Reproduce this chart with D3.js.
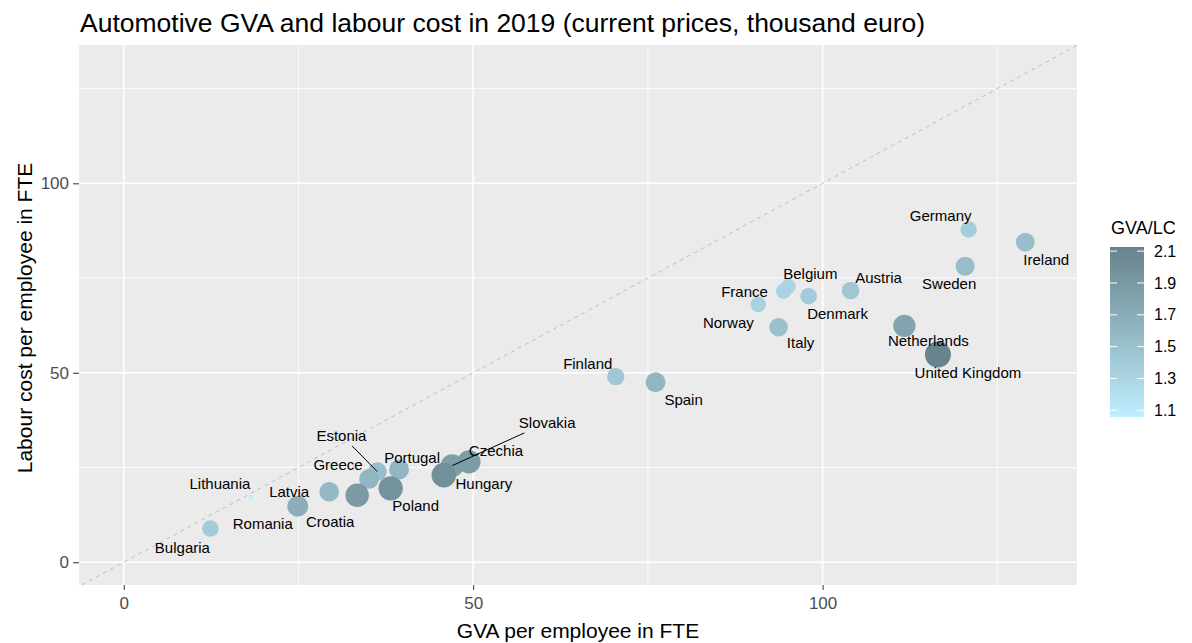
<!DOCTYPE html>
<html>
<head>
<meta charset="utf-8">
<script src="https://cdn.jsdelivr.net/npm/d3@7"></script>
<style>
  body { margin: 0; background: #fff; }
  text { font-family: "Liberation Sans", Arial, sans-serif; }
</style>
</head>
<body>
<div id="chart"></div>
<script>
// values (thousand euro per FTE)
const countries = ["Germany", "Ireland", "Sweden", "Austria", "Denmark", "Belgium", "France", "Norway",
  "Italy", "Netherlands", "United Kingdom", "Finland", "Spain", "Slovakia", "Czechia", "Hungary",
  "Portugal", "Poland", "Estonia", "Greece", "Croatia", "Latvia", "Lithuania", "Romania", "Bulgaria"];
const gva = [120.9, 129.0, 120.4, 104.0, 98.0, 95.1, 94.4, 90.8, 93.7, 111.7, 116.5, 70.4, 76.1,
  47.0, 49.4, 45.8, 39.4, 38.2, 36.3, 35.1, 33.4, 29.4, 18.2, 24.9, 12.4];
const labourCost = [87.8, 84.5, 78.1, 71.7, 70.2, 72.8, 71.5, 68.0, 62.0, 62.4, 54.8, 49.0, 47.5,
  25.5, 26.5, 23.0, 24.5, 19.5, 23.9, 22.0, 17.7, 18.6, 17.2, 14.8, 8.9];
const axisTicks = [0, 50, 100];
const legendTicks = [1.1, 1.3, 1.5, 1.7, 1.9, 2.1];

// where the repelled labels sit, relative to their point (px)
const labelShift = {
  "Germany": [-28, -14], "Ireland": [21, 18], "Sweden": [-16, 17], "Austria": [28, -13],
  "Belgium": [22, -13], "Denmark": [29, 18], "France": [-39, 0], "Norway": [-30, 18],
  "Italy": [22, 15], "Netherlands": [24, 15], "United Kingdom": [30, 18], "Finland": [-28, -13],
  "Spain": [28, 17], "Slovakia": [95, -43], "Czechia": [27, -11], "Hungary": [40, 9],
  "Portugal": [13, -12], "Poland": [25, 17], "Estonia": [-36, -36], "Greece": [-31, -14],
  "Croatia": [-27, 27], "Latvia": [-40, 0], "Lithuania": [-31, -13], "Romania": [-35, 18],
  "Bulgaria": [-28, 19]
};
const withSegment = ["Slovakia", "Estonia"];

const data = countries.map((c, i) => ({ name: c, x: gva[i], y: labourCost[i], r: gva[i] / labourCost[i] }));

const W = 1192, H = 643;
const panel = { left: 79, right: 1077, top: 45, bottom: 585 };

const svg = d3.select("#chart").append("svg")
  .attr("width", W).attr("height", H);

const x = d3.scaleLinear().domain([-6.4, 136.4]).range([panel.left, panel.right]);
const y = d3.scaleLinear().domain([-6.0, 136.5]).range([panel.bottom, panel.top]);

const ext = d3.extent(data, d => d.r);
const color = d3.scaleLinear().domain(ext).range(["#BFEFFF", "#68838B"]).interpolate(d3.interpolateLab);
// area scale like ggplot: radius grows with sqrt of the rescaled value
const unit = d3.scaleLinear().domain(ext).range([0, 1]);
const size = v => 2.3 + 10.7 * Math.sqrt(unit(v));

// panel + grid
svg.append("rect")
  .attr("x", panel.left).attr("y", panel.top)
  .attr("width", panel.right - panel.left).attr("height", panel.bottom - panel.top)
  .attr("fill", "#EBEBEB");

const minor = [25, 75, 125];
const grid = svg.append("g");
grid.selectAll(".vmin").data(minor).join("line")
  .attr("x1", d => x(d)).attr("x2", d => x(d)).attr("y1", panel.top).attr("y2", panel.bottom)
  .attr("stroke", "#fff").attr("stroke-width", 0.8);
grid.selectAll(".hmin").data(minor).join("line")
  .attr("y1", d => y(d)).attr("y2", d => y(d)).attr("x1", panel.left).attr("x2", panel.right)
  .attr("stroke", "#fff").attr("stroke-width", 0.8);
grid.selectAll(".vmaj").data(axisTicks).join("line")
  .attr("x1", d => x(d)).attr("x2", d => x(d)).attr("y1", panel.top).attr("y2", panel.bottom)
  .attr("stroke", "#fff").attr("stroke-width", 1.6);
grid.selectAll(".hmaj").data(axisTicks).join("line")
  .attr("y1", d => y(d)).attr("y2", d => y(d)).attr("x1", panel.left).attr("x2", panel.right)
  .attr("stroke", "#fff").attr("stroke-width", 1.6);

// y = x reference line
svg.append("clipPath").attr("id", "clip").append("rect")
  .attr("x", panel.left).attr("y", panel.top)
  .attr("width", panel.right - panel.left).attr("height", panel.bottom - panel.top);
svg.append("line")
  .attr("clip-path", "url(#clip)")
  .attr("x1", x(-10)).attr("y1", y(-10)).attr("x2", x(140)).attr("y2", y(140))
  .attr("stroke", "#BEBEBE").attr("stroke-width", 1).attr("stroke-dasharray", "4,4");

// axes
const xAxis = svg.append("g").attr("transform", `translate(0,${panel.bottom})`)
  .call(d3.axisBottom(x).tickValues(axisTicks).tickSize(5).tickPadding(7));
const yAxis = svg.append("g").attr("transform", `translate(${panel.left},0)`)
  .call(d3.axisLeft(y).tickValues(axisTicks).tickSize(6).tickPadding(4));
[xAxis, yAxis].forEach(a => {
  a.select(".domain").remove();
  a.selectAll("line").attr("stroke", "#333");
  a.selectAll("text").attr("fill", "#4D4D4D").style("font-size", "17px")
    .style("font-family", "Liberation Sans, Arial, sans-serif");
});

// points
svg.append("g").selectAll("circle").data(data).join("circle")
  .attr("cx", d => x(d.x)).attr("cy", d => y(d.y))
  .attr("r", d => size(d.r))
  .attr("fill", d => color(d.r));

// labels
const lab = svg.append("g").selectAll("text").data(data).join("text")
  .attr("x", d => x(d.x) + labelShift[d.name][0])
  .attr("y", d => y(d.y) + labelShift[d.name][1])
  .attr("text-anchor", "middle").attr("dy", "0.35em")
  .style("font-size", "15px").attr("fill", "#000")
  .text(d => d.name);

lab.filter(d => withSegment.includes(d.name)).each(function (d) {
  const b = this.getBBox();
  const cx = b.x + b.width / 2, cy = b.y + b.height / 2;
  const px = x(d.x), py = y(d.y);
  const dx = px - cx, dy = py - cy;
  const t = Math.min((b.width / 2 + 2) / Math.abs(dx), (b.height / 2 + 2) / Math.abs(dy));
  svg.append("line")
    .attr("x1", cx + dx * t).attr("y1", cy + dy * t)
    .attr("x2", px).attr("y2", py)
    .attr("stroke", "#000").attr("stroke-width", 1);
});

// titles
svg.append("text").attr("x", 80).attr("y", 32)
  .style("font-size", "26.5px").attr("fill", "#000")
  .text("Automotive GVA and labour cost in 2019 (current prices, thousand euro)");
svg.append("text").attr("x", (panel.left + panel.right) / 2).attr("y", 638)
  .attr("text-anchor", "middle").style("font-size", "21px")
  .text("GVA per employee in FTE");
svg.append("text")
  .attr("transform", `translate(32,${(panel.top + panel.bottom) / 2 + 3}) rotate(-90)`)
  .attr("text-anchor", "middle").style("font-size", "21px")
  .text("Labour cost per employee in FTE");

// colour legend
const lg = { x: 1110, w: 34, top: 247, bottom: 417 };
const ly = d3.scaleLinear().domain(ext).range([lg.bottom, lg.top]);
const grad = svg.append("defs").append("linearGradient").attr("id", "lc-grad")
  .attr("x1", 0).attr("x2", 0).attr("y1", 1).attr("y2", 0);
d3.range(0, 1.01, 0.1).forEach(f => {
  grad.append("stop").attr("offset", f)
    .attr("stop-color", color(ext[0] + f * (ext[1] - ext[0])));
});
svg.append("text").attr("x", lg.x + 1).attr("y", 234).style("font-size", "18px").text("GVA/LC");
svg.append("rect").attr("x", lg.x).attr("y", lg.top).attr("width", lg.w)
  .attr("height", lg.bottom - lg.top).attr("fill", "url(#lc-grad)");
const lt = svg.append("g").selectAll("g").data(legendTicks).join("g");
lt.append("line").attr("x1", lg.x).attr("x2", lg.x + 7)
  .attr("y1", d => ly(d)).attr("y2", d => ly(d)).attr("stroke", "#fff");
lt.append("line").attr("x1", lg.x + lg.w - 7).attr("x2", lg.x + lg.w)
  .attr("y1", d => ly(d)).attr("y2", d => ly(d)).attr("stroke", "#fff");
lt.append("text").attr("x", lg.x + lg.w + 10).attr("y", d => ly(d)).attr("dy", "0.35em")
  .style("font-size", "16px").attr("fill", "#000").text(d => d3.format(".1f")(d));
</script>
</body>
</html>
